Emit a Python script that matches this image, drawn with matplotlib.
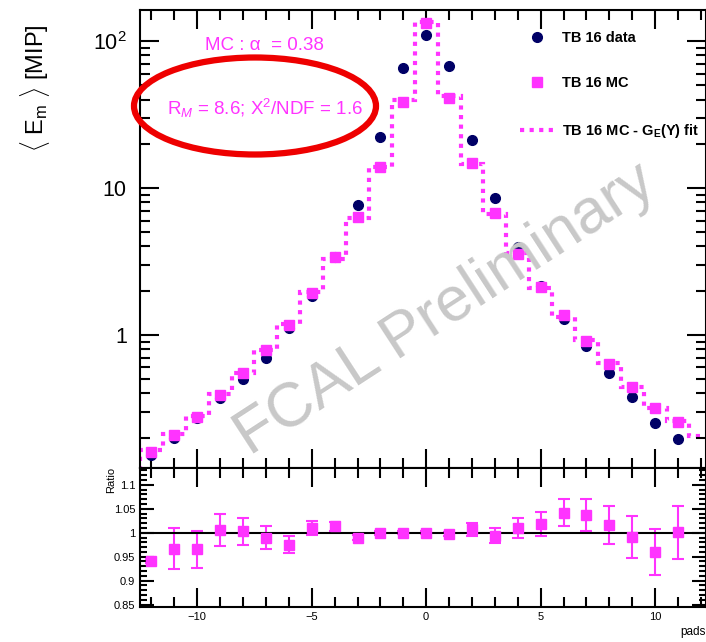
import numpy as np
import matplotlib
matplotlib.use("Agg")
import matplotlib.pyplot as plt
from matplotlib.patches import Ellipse
from matplotlib.lines import Line2D
from matplotlib.ticker import MultipleLocator, FixedLocator, FixedFormatter

plt.rcParams['font.family'] = ['Liberation Sans', 'DejaVu Sans']
plt.rcParams['mathtext.fontset'] = 'custom'
plt.rcParams['mathtext.rm'] = 'Liberation Sans'
plt.rcParams['mathtext.it'] = 'Liberation Sans:italic'
plt.rcParams['mathtext.bf'] = 'Liberation Sans:bold'

# pad positions
pads = list(range(-12, 12))
fit_pads = list(range(-12, 13))

# TB 16 data (mean energy per pad, MIP)
data_vals = [0.153, 0.199, 0.270, 0.373, 0.502, 0.701, 1.12, 1.85, 3.41, 7.66,
             22.1, 65.5, 110.0, 67.6, 21.2, 8.55, 3.99, 2.15, 1.28, 0.846,
             0.551, 0.375, 0.253, 0.195]
# TB 16 MC
mc_vals = [0.160, 0.207, 0.277, 0.391, 0.551, 0.791, 1.17, 1.94, 3.41, 6.38,
           13.96, 38.6, 133.0, 40.7, 14.7, 6.76, 3.56, 2.12, 1.37, 0.91,
           0.635, 0.445, 0.32, 0.257]
# TB 16 MC - G_E(Y) fit (step histogram)
fit_vals = [0.165, 0.212, 0.282, 0.395, 0.55, 0.79, 1.19, 1.95, 3.30, 6.25,
            14.0, 39.5, 134.0, 42.0, 14.6, 6.70, 3.60, 2.10, 1.33, 0.92,
            0.64, 0.44, 0.32, 0.26, 0.205]

# ratio panel
ratio_vals = [0.941, 0.967, 0.965, 1.006, 1.003, 0.990, 0.975, 1.010, 1.013, 0.990,
              1.000, 1.000, 1.000, 0.997, 1.007, 0.994, 1.010, 1.018, 1.042, 1.037,
              1.016, 0.991, 0.960, 1.001]
ratio_errs = [0.004, 0.043, 0.039, 0.033, 0.028, 0.023, 0.018, 0.015, 0.010, 0.005,
              0.004, 0.003, 0.003, 0.004, 0.013, 0.015, 0.020, 0.025, 0.029, 0.034,
              0.040, 0.043, 0.048, 0.055]

navy = '#000066'
mag = '#ff33ff'

W, H = 706, 642
fig = plt.figure(figsize=(W / 100, H / 100), dpi=100)

left = 140 / W
right = 705.5 / W
ax = fig.add_axes([left, 1 - 468 / H, right - left, (468 - 10) / H])
axr = fig.add_axes([left, 1 - 607 / H, right - left, (607 - 468) / H])

edges = np.arange(-12.5, 13.0, 1.0)
ax.stairs(fit_vals, edges, baseline=1e-3, color=mag, lw=3, ls=(0, (1, 1.3)))
data_err = [0.03 * v for v in data_vals]
ax.errorbar(pads, data_vals, yerr=data_err, fmt='o', color=navy, ms=7,
            capsize=3, elinewidth=1.2, zorder=3)
ax.plot(pads, mc_vals, 's', color=mag, ms=7, zorder=4)

ax.set_yscale('log')
ax.set_xlim(-12.5, 12.2)
ax.set_ylim(0.124, 163)

for a in (ax, axr):
    a.xaxis.set_major_locator(MultipleLocator(5))
    a.xaxis.set_minor_locator(MultipleLocator(1))
    a.tick_params(which='both', direction='in', top=True, right=True, width=1.5)
    a.tick_params(which='major', length=14)
    a.tick_params(which='minor', length=7)
    for s in a.spines.values():
        s.set_linewidth(1.5)

ax.yaxis.set_major_locator(FixedLocator([1, 10, 100]))
ax.yaxis.set_major_formatter(FixedFormatter(['1', '10', '$\\mathdefault{10^2}$']))
ax.tick_params(axis='y', labelsize=15.5, pad=9.5)
ax.tick_params(axis='x', labelbottom=False)

# ratio panel
axr.errorbar(pads, ratio_vals, yerr=ratio_errs, fmt='s', color=mag, ms=7,
             capsize=4, elinewidth=1.5, capthick=1.5)
axr.axhline(1.0, color='black', lw=1.5)
axr.set_ylim(0.845, 1.135)
axr.set_xlim(-12.5, 12.2)
axr.yaxis.set_major_locator(FixedLocator([0.85, 0.9, 0.95, 1.0, 1.05, 1.1]))
axr.yaxis.set_major_formatter(FixedFormatter(['0.85', '0.9', '0.95', '1', '1.05', '1.1']))
axr.yaxis.set_minor_locator(MultipleLocator(0.01))
axr.tick_params(axis='y', which='major', length=10)
axr.tick_params(axis='y', which='minor', length=5)
axr.tick_params(labelsize=8)
axr.set_xticks([-10, -5, 0, 5, 10])
axr.set_xticklabels(['\u221210', '\u22125', '0', '5', '10'])
fig.text(111 / W, 1 - 480 / H, 'Ratio', fontsize=8, rotation=90,
         ha='center', va='center')

# legend
handles = [
    Line2D([], [], marker='o', color=navy, ls='none', ms=7),
    Line2D([], [], marker='s', color=mag, ls='none', ms=7),
    Line2D([], [], color=mag, lw=3, ls=(0, (1, 1.3))),
]
labels = ['TB 16 data', 'TB 16 MC', 'TB 16 MC - G$_\\mathbf{E}$(Y) fit']
leg = ax.legend(handles, labels, loc='upper left', bbox_to_anchor=(520 / W, 1 - 31 / H),
                bbox_transform=fig.transFigure, frameon=False, handlelength=2.3,
                handletextpad=0.6, labelspacing=2.15, borderpad=0, borderaxespad=0,
                prop={'weight': 'bold', 'size': 10.5})

fig.text(264 / W, 1 - 46 / H, 'MC : \u03b1  = 0.38', color=mag, fontsize=13.5,
         ha='center', va='center')
fig.text(265 / W, 1 - 108 / H, 'R$_{\\mathit{M}}$ = 8.6; X$^2$/NDF = 1.6', color=mag,
         fontsize=13.5, ha='center', va='center')
ell = Ellipse((255 / W, 1 - 106 / H), 242 / W, 97 / H, transform=fig.transFigure,
              fill=False, edgecolor='#ee0000', lw=4.5, zorder=10)
fig.patches.append(ell)

fig.text(445 / W, 1 - 310 / H, 'FCAL Preliminary', color='#c8c8c8', fontsize=45,
         rotation=33, ha='center', va='center', zorder=0)

fig.text(35 / W, 1 - 88 / H, '$\\langle$ E$_\\mathrm{m}$ $\\rangle$ [MIP]', fontsize=17,
         rotation=90, ha='center', va='center')
fig.text(680 / W, 1 - 632 / H, 'pads', fontsize=8.5, ha='left', va='center')

fig.savefig('out.png', dpi=100)
